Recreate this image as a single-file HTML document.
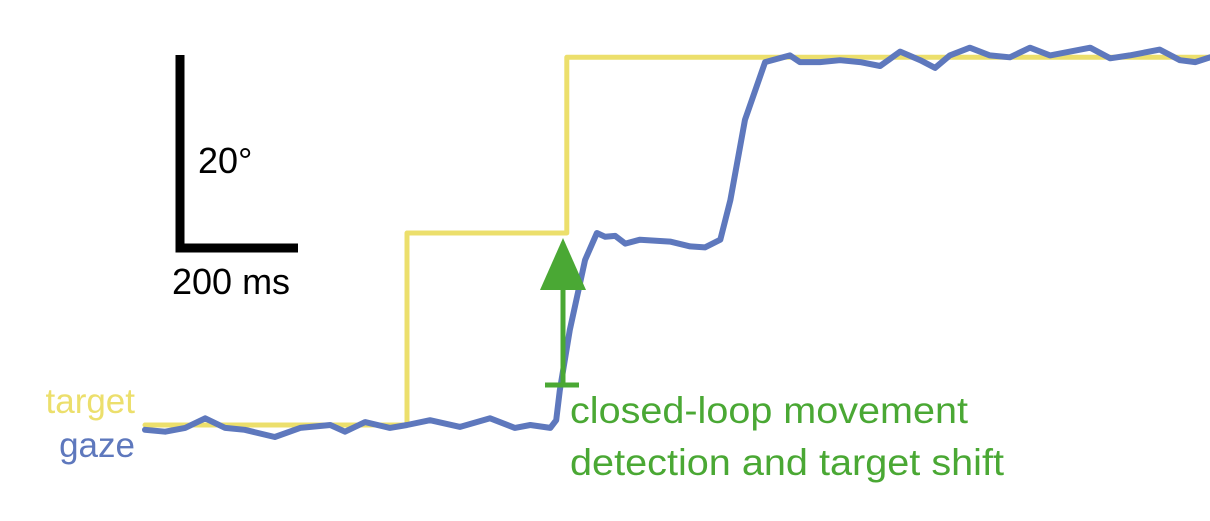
<!DOCTYPE html>
<html><head><meta charset="utf-8"><style>
html,body{margin:0;padding:0;background:#fff;}
svg{display:block;font-family:"Liberation Sans",sans-serif;}
</style></head><body>
<svg id="chart" width="1210" height="521" viewBox="0 0 1210 521">
<g>
<path d="M180,55 V248 H298" fill="none" stroke="#000" stroke-width="9"/>
<text x="198" y="173" font-size="36" fill="#000">20°</text>
<text x="172" y="294" font-size="36" fill="#000">200 ms</text>
</g>
<text x="135" y="413" font-size="35" fill="#ecdf6c" text-anchor="end">target</text>
<text x="135" y="457" font-size="35" fill="#5e78bd" text-anchor="end">gaze</text>
<g id="series"></g>
<g>
<line x1="563" y1="385" x2="563" y2="282" stroke="#4aa834" stroke-width="5"/>
<polygon points="563,238 540,290 586,290" fill="#4aa834"/>
<line x1="545" y1="385" x2="579" y2="385" stroke="#4aa834" stroke-width="5"/>
<text x="570" y="423" font-size="37" fill="#4aa834" textLength="398" lengthAdjust="spacingAndGlyphs">closed-loop movement</text>
<text x="570" y="475" font-size="37" fill="#4aa834" textLength="434" lengthAdjust="spacingAndGlyphs">detection and target shift</text>
</g>
</svg>
<script>
const targetTimes=[0,444,444,715,715,1805];
const targetDeg=[0,0,20,20,38.3,38.3];
const gazeTimes=[0,34,68,102,136,169,220,263,314,339,373,415,444,483,534,585,627,653,687,697,703,720,746,766,780,797,814,839,890,924,949,975,992,1017,1051,1093,1110,1144,1178,1212,1246,1280,1314,1339,1364,1398,1432,1466,1500,1534,1568,1602,1636,1669,1720,1754,1780,1805];
const gazeDeg=[-0.5,-0.7,-0.3,0.7,-0.3,-0.5,-1.25,-0.3,0,-0.7,0.3,-0.3,0,0.5,-0.2,0.7,-0.3,0,-0.3,0.5,3.6,9.9,17.2,20,19.6,19.7,18.9,19.3,19.1,18.6,18.5,19.3,23.4,31.8,37.8,38.5,37.8,37.8,38,37.8,37.4,38.9,38,37.2,38.5,39.3,38.5,38.3,39.3,38.5,38.9,39.3,38.2,38.5,39.1,38,37.8,38.3];
function xs(t){return 145+t*0.59;}
function ys(d){return 425-d*9.6;}
const g=document.getElementById('series');
function line(ts,ds,color,w,name){
  const p=document.createElementNS('http://www.w3.org/2000/svg','polyline');
  p.setAttribute('points',ts.map((t,i)=>xs(t).toFixed(1)+','+ys(ds[i]).toFixed(1)).join(' '));
  p.setAttribute('fill','none');p.setAttribute('stroke',color);p.setAttribute('stroke-width',w);
  p.setAttribute('stroke-linejoin','round');p.setAttribute('stroke-linecap','round');
  
  
  g.appendChild(p);
}
line(targetTimes,targetDeg,'#ecdf6c',5,'target-line');
line(gazeTimes,gazeDeg,'#5e78bd',6,'gaze-line');
</script>
</body></html>
